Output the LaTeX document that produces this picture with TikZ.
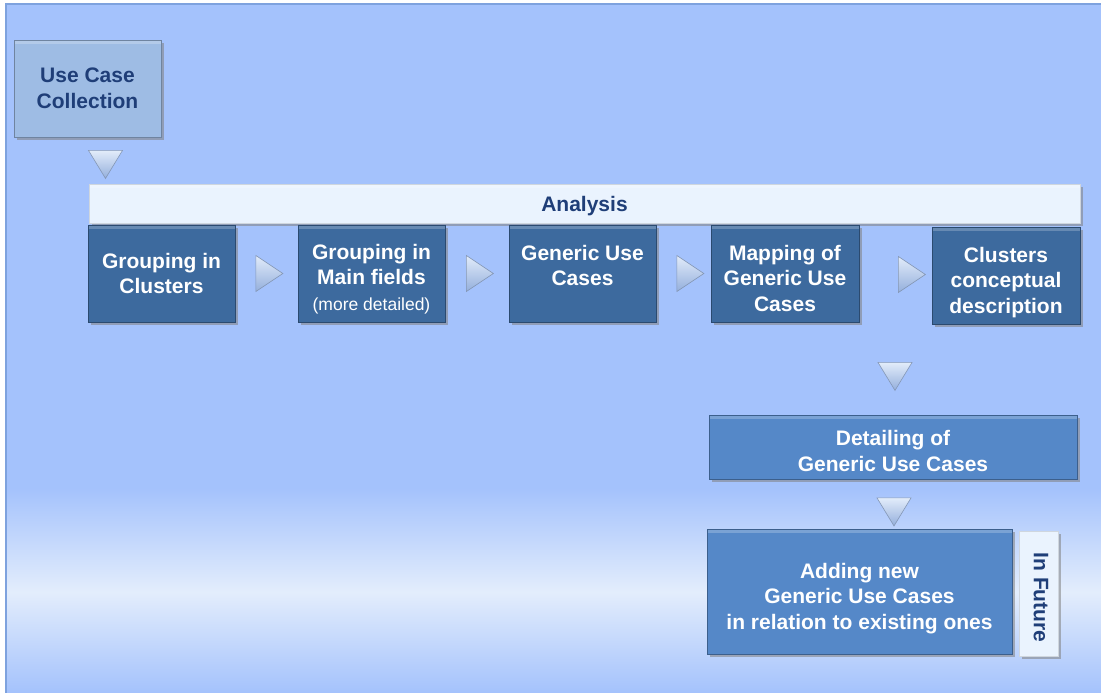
\documentclass[tikz,border=0pt]{standalone}
\usepackage{fontspec}
\setmainfont{Liberation Sans}
\usetikzlibrary{shapes.geometric,shadows}

\definecolor{bgblue}{HTML}{A4C2FC}
\definecolor{bglight}{HTML}{E3EDFC}
\definecolor{bgedge}{HTML}{7EA2DE}
\definecolor{navy}{HTML}{1F3E78}
\definecolor{darkfill}{HTML}{3D6A9E}
\definecolor{midfill}{HTML}{5588C8}
\definecolor{palefill}{HTML}{9EBCE4}
\definecolor{barfill}{HTML}{EAF3FE}
\definecolor{tritop}{HTML}{E2ECFA}
\definecolor{tribot}{HTML}{94AFDC}
\definecolor{triedge}{HTML}{8497B5}

% struts that move the text of a box a little down (topgap) or up (botgap)
\newcommand{\topgap}[1][23pt]{\rule{0pt}{#1}}
\newcommand{\botgap}[1][16pt]{\rule[-#1]{0pt}{#1}}

\tikzset{
    box/.style={draw=#1!70!black, fill=#1, line width=0.8pt, align=center,
        inner sep=0pt, font=\fontsize{21}{25.5}\selectfont\bfseries,
        drop shadow={shadow xshift=2.5pt, shadow yshift=-3pt, opacity=0.55},
        path picture={\fill[white, opacity=0.22] (path picture bounding box.north west)
            rectangle ([yshift=-4pt]path picture bounding box.north east);}},
    darkbox/.style={box=darkfill, text=white, minimum width=147pt, minimum height=97pt},
    midbox/.style={box=midfill, text=white},
    palebox/.style={box=palefill, text=navy, minimum width=147pt, minimum height=97pt},
    barbox/.style={box=barfill, text=navy, draw=barfill!75!gray},
    tri/.style={isosceles triangle, isosceles triangle stretches, inner sep=0pt,
        draw=triedge, line width=0.6pt, top color=tritop, bottom color=tribot},
    triright/.style={tri, shape border rotate=0, minimum width=36pt, minimum height=27pt},
    tridown/.style={tri, shape border rotate=-90, minimum width=34pt, minimum height=28pt}
}

\begin{document}
\begin{tikzpicture}[x=1pt, y=-1pt]
    \useasboundingbox (0, 0) rectangle (1101, 693);

    % background
    \fill[bgblue] (6, 4) rectangle (1101, 693);
    \shade[top color=bgblue, bottom color=bglight] (6, 488) rectangle (1101, 592);
    \shade[top color=bglight, bottom color=bgblue] (6, 592) rectangle (1101, 693);
    \draw[bgedge, line width=1.5pt] (6, 693) -- (6, 4) -- (1101, 4);

    % collection and analysis
    \node[palebox] (collect) at (87.5, 88.5) {Use Case\\Collection};
    \node[tridown] (t0) at (105.5, 160) {};
    \node[barbox, minimum width=991pt, minimum height=39pt] (analysis) at (584.5, 203.5) {\topgap[21pt]Analysis};

    \node[darkbox] (clusters) at (161.5, 273.5) {Grouping in\\Clusters};
    \node[darkbox] (fields) at (371.5, 273.5) {\topgap[26pt]Grouping in\\Main fields\\{\fontsize{17.5}{20}\selectfont\mdseries (more detailed)}};
    \node[darkbox] (generic) at (582.5, 273.5) {Generic Use\\Cases\botgap};
    \node[darkbox, minimum width=148pt] (mapping) at (785, 273.5) {\topgap[25pt]Mapping of\\Generic Use\\Cases};
    \node[darkbox, minimum width=148pt] (concept) at (1006, 275.5) {\topgap[29pt]Clusters\\conceptual\\description};

    \node[triright] (t1) at (265.5, 273.5) {};
    \node[triright] (t2) at (476, 273.5) {};
    \node[triright] (t3) at (686.5, 273.5) {};
    \node[triright] (t4) at (908, 274.5) {};

    % detailing and future work
    \node[tridown] (t5) at (895, 372) {};
    \node[midbox, minimum width=368pt, minimum height=64pt] (detail) at (893, 447) {\topgap Detailing of\\Generic Use Cases};
    \node[tridown] (t6) at (894, 507.5) {};
    \node[midbox, minimum width=305pt, minimum height=125pt] (adding) at (859.5, 591.5) {\topgap[29pt]Adding new\\Generic Use Cases\\in relation to existing ones};
    \node[barbox, rotate=-90, minimum width=125pt, minimum height=39pt] (future) at (1038.5, 593.5) {\hspace*{8pt}In Future\botgap[5pt]};
\end{tikzpicture}
\end{document}
